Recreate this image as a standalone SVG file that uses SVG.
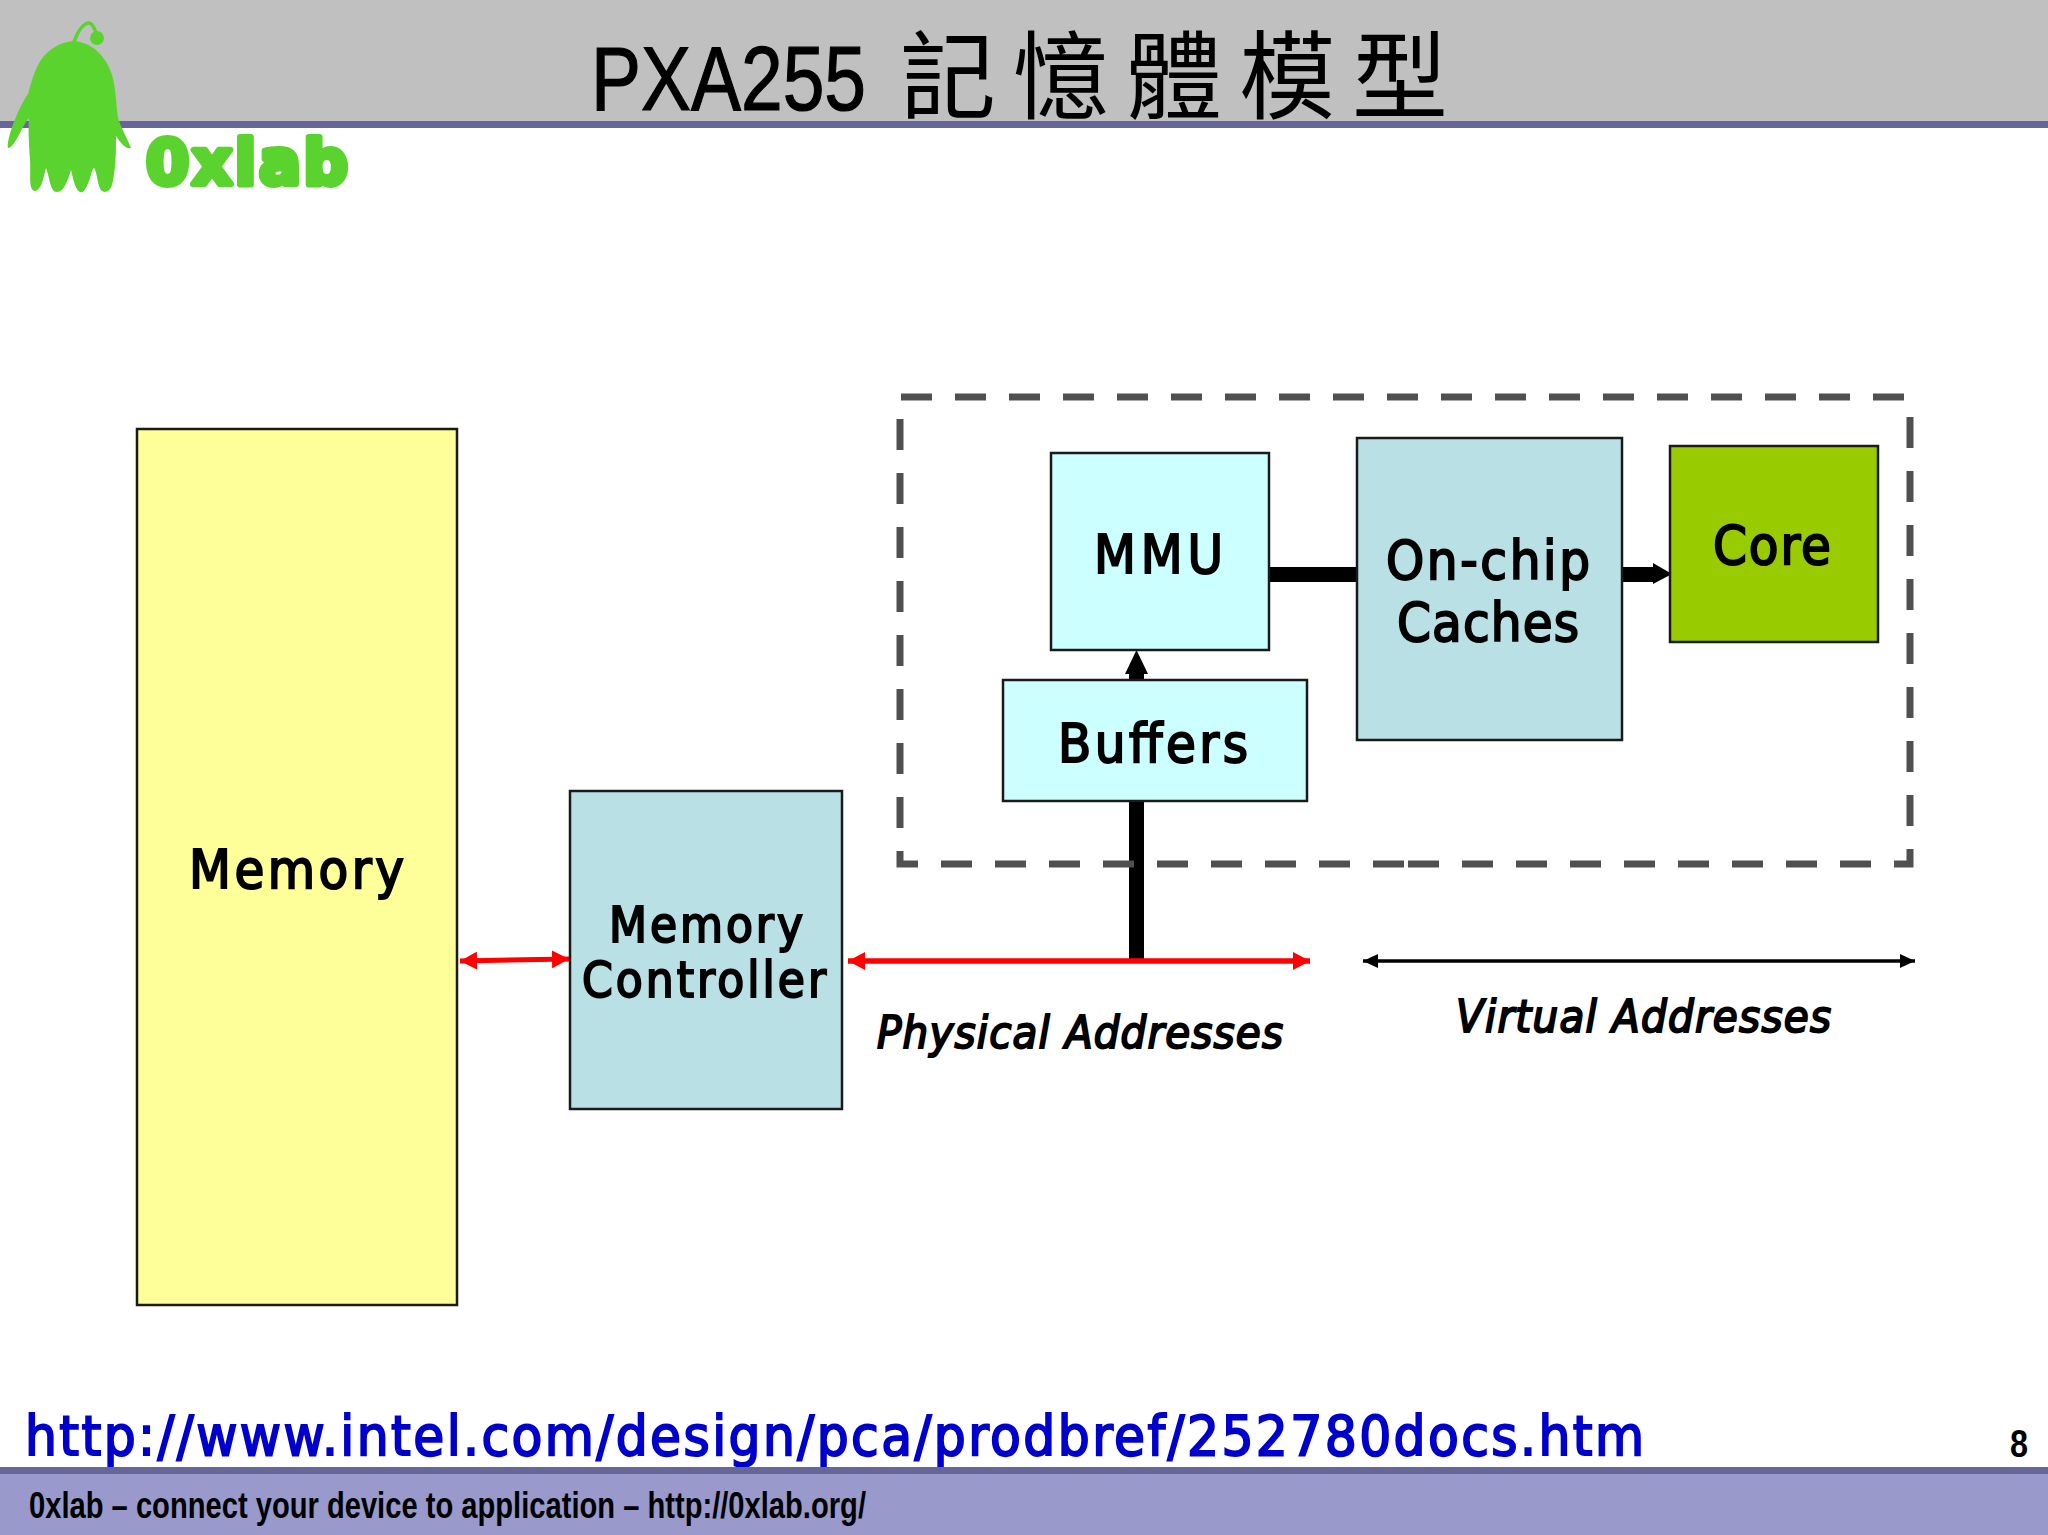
<svg xmlns="http://www.w3.org/2000/svg" width="2048" height="1535" viewBox="0 0 2048 1535">
<style>
.box{stroke:#1a1a1a;stroke-width:2.5}
.t{font-family:"DejaVu Sans",sans-serif;font-stretch:condensed;font-weight:400;fill:#000;stroke:#000;stroke-width:1.900;text-anchor:start}
.b{font-size:54px}
.i{font-size:45px;font-style:italic}
.dash{fill:none;stroke:#505050;stroke-width:7;stroke-dasharray:31 23}
.red{stroke:#f00;fill:none}
</style>
<defs>
<marker id="r" markerUnits="userSpaceOnUse" markerWidth="18" markerHeight="18" refX="17" refY="9" orient="auto-start-reverse"><path d="M0 0L17 9L0 18Z" fill="#f00"/></marker>
<marker id="k" markerUnits="userSpaceOnUse" markerWidth="16" markerHeight="16" refX="15" refY="8" orient="auto-start-reverse"><path d="M0 1L15 8L0 15Z" fill="#000"/></marker>
</defs>
<rect width="2048" height="1535" fill="#fff"/>
<g id="header">
<rect width="2048" height="121" fill="#c0c0c0"/>
<rect y="121" width="2048" height="7" fill="#666699"/>
<text x="591" y="110" font-family="Liberation Sans" font-size="90" stroke="#000" stroke-width="1.200" textLength="275" lengthAdjust="spacingAndGlyphs">PXA255</text>
<text x="900" y="111" font-family="Noto Sans CJK TC,sans-serif" font-size="96" letter-spacing="17">記憶體模型</text>
</g>
<g id="logo" fill="#5bd32f">
<path d="M73 41C92 42 106 56 112 75C116 88 116 105 118 118C121 128 127 138 131 148C126 150 120 142 116 136C116 150 116 170 112 185C109 194 101 194 99 186C97 178 96 170 94 168C91 170 90 185 83 192C76 194 74 182 71 170C68 180 64 192 57 192C50 192 50 178 46 168C44 175 42 190 35 191C28 190 31 175 30 160C29 145 28 130 29 118C24 122 15 148 8 148C6 140 18 108 28 94C32 80 36 62 48 52C56 45 64 42 73 41Z"/>
<path d="M74 42C78 30 84 23 89 23C92 23 94 27 96 33" fill="none" stroke="#5bd32f" stroke-width="3.500"/>
<circle cx="97" cy="38" r="7"/>
<text x="146" y="184" font-family="DejaVu Sans,sans-serif" font-weight="700" font-size="62" stroke="#5bd32f" stroke-width="6" stroke-linejoin="round" textLength="202">0xlab</text>
</g>
<g id="connectors">
<path d="M1269 574.500H1357M1622 574.500H1655" stroke="#000" stroke-width="15" fill="none"/>
<path d="M1653 563L1672 574L1653 584Z" fill="#000"/>
<path d="M1136.500 801V960M1136.500 679V670" stroke="#000" stroke-width="15" fill="none"/>
<path d="M1136.500 650L1148 674H1125Z" fill="#000"/>
<path d="M460 961L569 959" class="red" stroke-width="5" marker-start="url(#r)" marker-end="url(#r)"/>
<path d="M848 961H1310" class="red" stroke-width="5.500" marker-start="url(#r)" marker-end="url(#r)"/>
<path d="M1363 961H1915" stroke="#000" stroke-width="3.500" fill="none" marker-start="url(#k)" marker-end="url(#k)"/>
</g>
<g id="container">
<path class="dash" d="M901 397H1907"/>
<path class="dash" d="M900 419V864H1406"/>
<path class="dash" d="M1910 417V864H1407"/>
</g>
<g id="memory"><rect class="box" x="137" y="429" width="320" height="876" fill="#ffff99"/><text class="t b" x="189" y="888" textLength="215">Memory</text></g>
<g id="memory-controller"><rect class="box" x="570" y="791" width="272" height="318" fill="#b9e0e4"/><text class="t" font-size="49" x="609" y="942" textLength="194">Memory</text><text class="t" font-size="49" x="582" y="997" textLength="244">Controller</text></g>
<g id="mmu"><rect class="box" x="1051" y="453" width="218" height="197" fill="#ccffff"/><text class="t b" x="1094" y="573" textLength="129">MMU</text></g>
<g id="caches"><rect class="box" x="1357" y="438" width="265" height="302" fill="#b9e0e4"/><text class="t b" x="1386" y="579" textLength="204">On-chip</text><text class="t b" x="1397" y="641" textLength="182">Caches</text></g>
<g id="core"><rect class="box" x="1670" y="446" width="208" height="196" fill="#99cc00"/><text class="t b" x="1713" y="564" textLength="118">Core</text></g>
<g id="buffers"><rect class="box" x="1003" y="680" width="304" height="121" fill="#ccffff"/><text class="t b" x="1058" y="762" textLength="190">Buffers</text></g>
<text class="t i" x="877" y="1048" textLength="406">Physical Addresses</text>
<text class="t i" x="1456" y="1032" textLength="375">Virtual Addresses</text>
<text x="25" y="1455" font-family="DejaVu Sans,sans-serif" font-stretch="condensed" font-size="56" fill="#0000cc" stroke="#0000cc" stroke-width="1.900" textLength="1619">http://www.intel.com/design/pca/prodbref/252780docs.htm</text>
<text x="2010" y="1457" font-family="Liberation Sans" font-weight="700" font-size="38" textLength="18" lengthAdjust="spacingAndGlyphs">8</text>
<g id="footer">
<rect y="1467" width="2048" height="68" fill="#9999cc"/>
<rect y="1467" width="2048" height="7" fill="#666699"/>
<text x="29" y="1518" font-family="Liberation Sans" font-weight="700" font-size="37" textLength="837" lengthAdjust="spacingAndGlyphs">0xlab – connect your device to application – http://0xlab.org/</text>
</g>
</svg>
